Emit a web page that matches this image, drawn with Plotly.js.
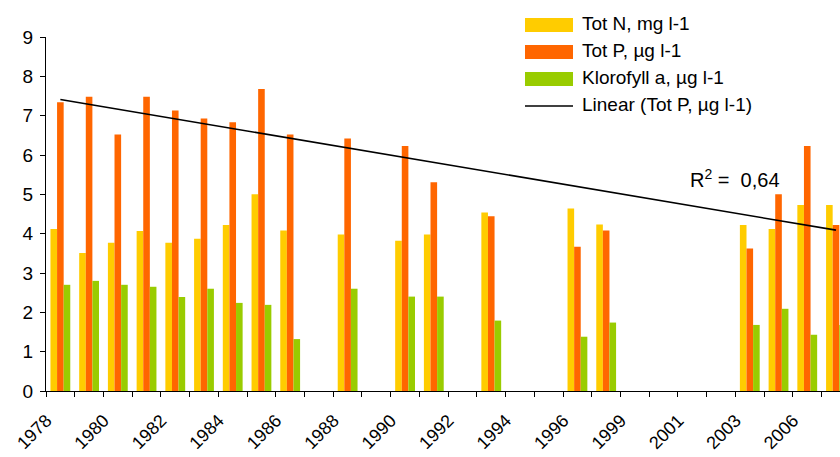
<!DOCTYPE html>
<html>
<head>
<meta charset="utf-8">
<script src="https://cdn.plot.ly/plotly-3.0.1.min.js"></script>
<style>html,body{margin:0;padding:0;background:#fff;}#chart{width:840px;height:457px;}</style>
</head>
<body>
<div id="chart"></div>
<script>
// Categories (years) on the x axis
const years = ["1978","1979","1980","1981","1982","1983","1984","1985","1986","1987",
               "1988","1989","1990","1991","1992","1993","1994","1995","1996","1998",
               "1999","2000","2001","2002","2003","2005","2006","2007"];
// Tick labels shown (every other category)
const tickLabels = ["1978","","1980","","1982","","1984","","1986","",
                    "1988","","1990","","1992","","1994","","1996","",
                    "1999","","2001","","2003","","2006",""];
// Series values (null = no measurement)
const totN = [4.12,3.51,3.77,4.07,3.77,3.87,4.22,5.00,4.08,null,
              3.98,null,3.82,3.98,null,4.54,null,null,4.64,4.23,
              null,null,null,null,4.22,4.12,4.73,4.73];
const totP = [7.34,7.48,6.52,7.48,7.13,6.93,6.83,7.68,6.52,null,
              6.42,null,6.23,5.31,null,4.44,null,null,3.67,4.08,
              null,null,null,null,3.62,5.00,6.23,4.22];
const klorofyll = [2.70,2.80,2.70,2.65,2.39,2.60,2.24,2.19,1.32,null,
                   2.60,null,2.40,2.40,null,1.79,null,null,1.38,1.74,
                   null,null,null,null,1.68,2.09,1.43,1.68];
const seriesNames = ["Tot N, mg l-1","Tot P, µg l-1","Klorofyll a, µg l-1","Linear (Tot P, µg l-1)"];
const seriesColors = ["#FFCC00","#FF6600","#99CC00","#000000"];
const r2Label = "0,64";   // R² as printed on the chart

// Linear trendline of Tot P over category index (as in a spreadsheet trendline)
const pts = [];
totP.forEach((v,i)=>{ if(v!==null) pts.push([i,v]); });
const n = pts.length;
const mx = pts.reduce((s,p)=>s+p[0],0)/n;
const my = pts.reduce((s,p)=>s+p[1],0)/n;
let sxx=0, sxy=0;
pts.forEach(p=>{ sxx+=(p[0]-mx)**2; sxy+=(p[0]-mx)*(p[1]-my); });
const slope = sxy/sxx, intercept = my - slope*mx;
const i0 = pts[0][0], i1 = pts[n-1][0];
const trendX = [years[i0], years[i1]];
const trendY = [intercept + slope*i0, intercept + slope*i1];

const font = "Liberation Sans, Arial, sans-serif";
const traces = [
  {type:"bar", name:seriesNames[0], x:years, y:totN, marker:{color:seriesColors[0]}},
  {type:"bar", name:seriesNames[1], x:years, y:totP, marker:{color:seriesColors[1]}},
  {type:"bar", name:seriesNames[2], x:years, y:klorofyll, marker:{color:seriesColors[2]}},
  {type:"scatter", mode:"lines", name:seriesNames[3], x:trendX, y:trendY,
   line:{color:seriesColors[3], width:1.6}}
];

// plot area in pixels
const L = 46, T = 37, W = 794, H = 354;
const px = v => (v - L)/W;
const py = v => (T + H - v)/H;

// Legend drawn as swatches + labels
const shapes = [];
const annotations = [];
const rowY = [25, 52, 79, 106];
seriesNames.forEach((nm, k) => {
  if (k < 3) {
    shapes.push({type:"rect", xref:"paper", yref:"paper", x0:px(525), x1:px(573),
                 y0:py(rowY[k]-7), y1:py(rowY[k]+7), fillcolor:seriesColors[k], line:{width:0}});
  } else {
    shapes.push({type:"line", xref:"paper", yref:"paper", x0:px(525), x1:px(573),
                 y0:py(rowY[k]), y1:py(rowY[k]), line:{color:seriesColors[k], width:1.6}});
  }
  annotations.push({xref:"paper", yref:"paper", x:px(580), y:py(rowY[k]-1.5), xanchor:"left", yanchor:"middle",
                    text:nm, showarrow:false, font:{family:font, size:19, color:"#000"}});
});
annotations.push({xref:"paper", yref:"paper", x:px(735), y:py(178), xanchor:"center", yanchor:"middle",
                  text:"R<sup>2</sup> =  " + r2Label, showarrow:false,
                  font:{family:font, size:20, color:"#000"}});

const layout = {
  width:840, height:457,
  margin:{l:L, r:0, t:T, b:457-T-H},
  paper_bgcolor:"#ffffff", plot_bgcolor:"#ffffff",
  font:{family:font, size:19, color:"#000000"},
  barmode:"group", bargap:0.31, bargroupgap:0,
  showlegend:false,
  xaxis:{type:"category", range:[-0.5, 27.14], tickmode:"array", tickvals:years, ticktext:tickLabels,
         tickson:"boundaries", ticks:"outside", ticklen:5, tickcolor:"#000", tickwidth:1,
         showline:true, linecolor:"#000", linewidth:1, showgrid:false, zeroline:false,
         tickangle:-45, ticklabelshift:-14, ticklabelstandoff:11, tickfont:{family:font, size:18}},
  yaxis:{range:[0,9], dtick:1, ticks:"outside", ticklen:5, tickcolor:"#000", tickwidth:1,
         showline:true, linecolor:"#000", linewidth:1, showgrid:false, zeroline:false,
         ticklabelstandoff:3, tickfont:{family:font, size:19}},
  shapes:shapes,
  annotations:annotations
};
Plotly.newPlot("chart", traces, layout, {displayModeBar:false, staticPlot:true});
</script>
</body>
</html>
